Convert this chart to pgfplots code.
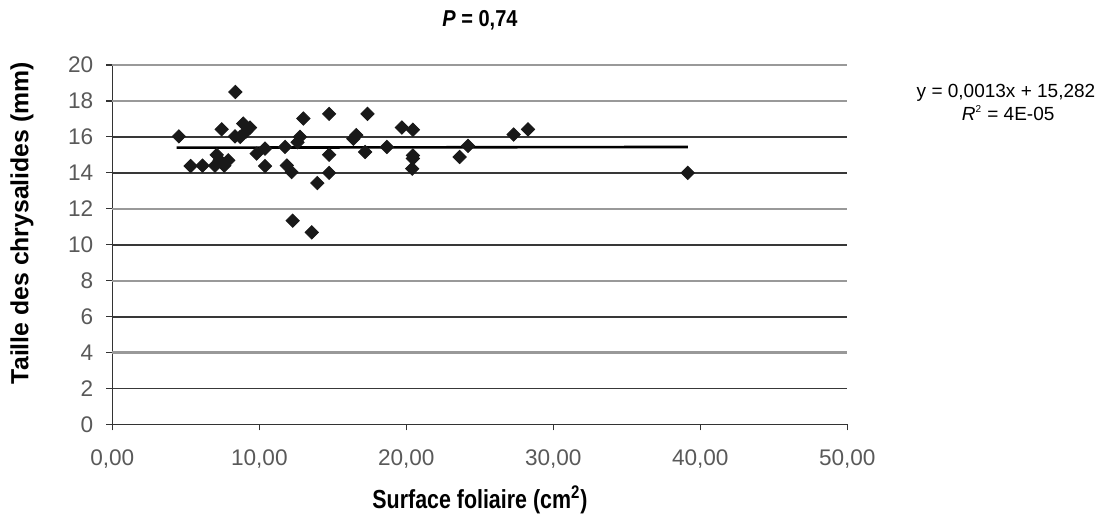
\documentclass[border=0pt]{standalone}
\usepackage{fontspec}
\setmainfont{Liberation Sans}
\usepackage{pgfplots}
\pgfplotsset{compat=1.18}

\begin{document}
\begin{tikzpicture}
\begin{axis}[
    at={(0,0)}, anchor=south west,
    scale only axis,
    width=367.5pt, height=179.75pt,
    xmin=0, xmax=50,
    ymin=0, ymax=20,
    axis x line*=bottom,
    axis y line*=left,
    axis line style={black!80, line width=0.7pt},
    xtick={0,10,...,50},
    ytick={0,2,6,10,14,16},
    extra y ticks={4,8,12,18,20},
    extra y tick style={grid style={black!40, line width=1.1pt}},
    tick align=outside,
    major tick length=3pt,
    tick style={black!80, line width=0.6pt},
    ymajorgrids=true,
    grid style={black!78, line width=0.9pt},
    ticklabel style={font=\fontsize{11.3}{13}\selectfont, text=black!65},
    /pgf/number format/assume math mode=true,
    xticklabel style={/pgf/number format/.cd, fixed, fixed zerofill, precision=2, use comma},
    xticklabel shift=6pt,
    yticklabel shift=3pt,
    clip=false,
]
% mesures
\addplot[only marks, mark=square*, mark size=2.35pt, mark options={rotate=45}, black!90] coordinates {
(4.53,16.03)(5.33,14.38)(6.14,14.40)(6.98,14.40)(7.44,16.42)(7.10,15.00)
(7.30,14.70)(7.62,14.40)(7.89,14.70)(8.37,18.50)(8.35,16.03)(8.70,16.00)
(8.91,16.74)(9.37,16.52)(9.10,16.30)(9.82,15.07)(10.39,15.35)(10.39,14.38)
(11.75,15.44)(11.87,14.41)(12.20,14.04)(12.77,16.00)(12.60,15.70)(13.00,17.02)
(12.27,11.34)(13.57,10.69)(13.95,13.43)(14.75,17.28)(14.75,15.01)(14.75,14.00)
(16.40,15.90)(16.60,16.10)(17.20,15.16)(17.36,17.28)(18.68,15.44)(19.70,16.52)
(20.45,16.40)(20.45,14.97)(20.40,14.23)(20.45,14.80)(23.63,14.88)(24.20,15.50)
(27.30,16.13)(28.28,16.42)(39.15,14.00)
};
% droite de regression
\addplot[black, line width=1.3pt, no marks] coordinates {(4.37,15.40)(39.15,15.44)};
\end{axis}

\node[font=\fontsize{10}{12}\selectfont\bfseries, yscale=1.15] at (183.85pt,202.25pt) {\textit{P} = 0,74};
\node[font=\fontsize{12.4}{14}\selectfont\bfseries, rotate=90] at (-45.15pt,100.75pt) {Taille des chrysalides (mm)};
\node[font=\fontsize{10.7}{13}\selectfont\bfseries, yscale=1.22] at (183.85pt,-37.75pt) {Surface foliaire (cm\textsuperscript{2})};
\node[font=\fontsize{9.5}{12}\selectfont] at (446.85pt,165.75pt) {y = 0,0013x + 15,282};
\node[font=\fontsize{9.5}{12}\selectfont] at (447.9pt,155.75pt) {\textit{R}\textsuperscript{\tiny 2} = 4E-05};

\pgfresetboundingbox
\path[use as bounding box] (-56.15pt,-49.25pt) rectangle (492.85pt,212.25pt);
\end{tikzpicture}
\end{document}
